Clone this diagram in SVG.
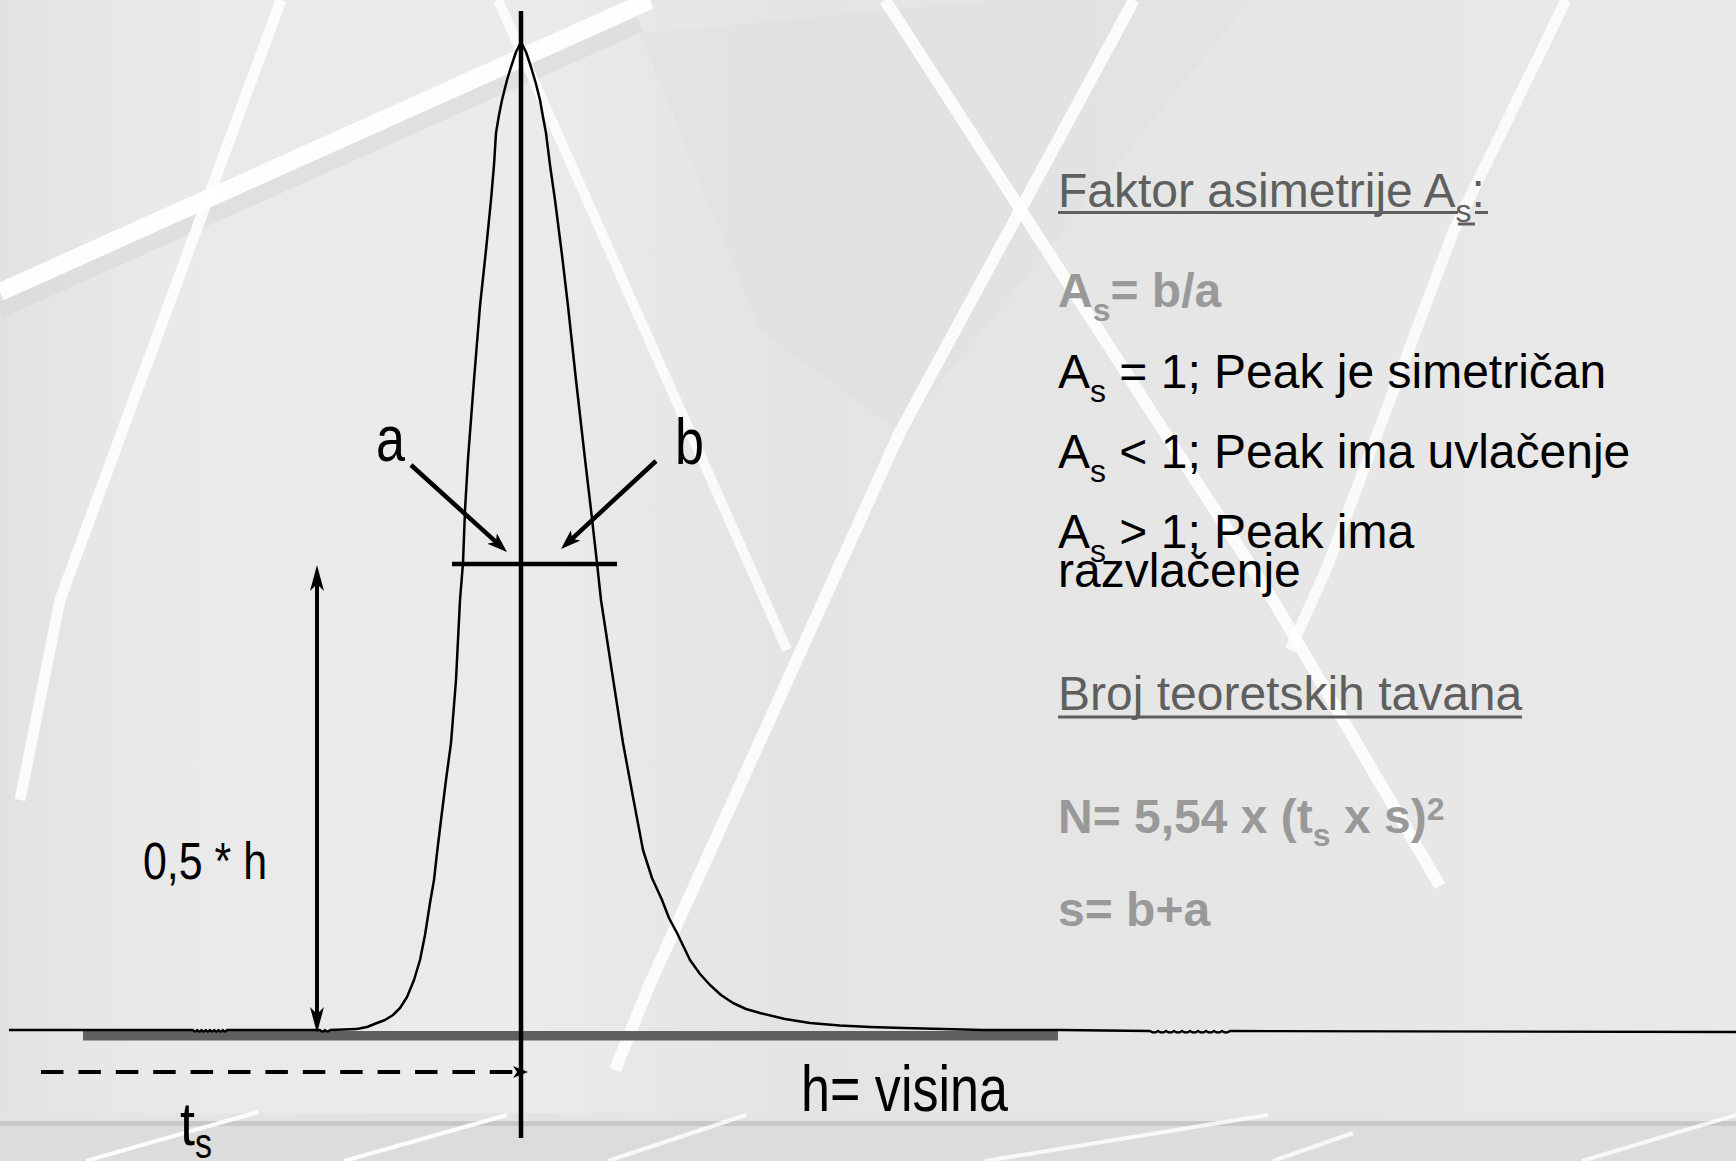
<svg xmlns="http://www.w3.org/2000/svg" width="1736" height="1161" viewBox="0 0 1736 1161">
<defs>
<style>
.bgl{fill:none;stroke:#ffffff;stroke-linecap:butt;stroke-linejoin:round}
.ink{fill:none;stroke:#000;stroke-linecap:butt;stroke-linejoin:round}
.nar{font-family:"Liberation Sans Narrow","Liberation Sans",Arial,sans-serif;fill:#000}
.rt{font-family:"Liberation Sans",Arial,sans-serif;font-size:48px}
.head{fill:#5f5f5f}
.gr{fill:#999999;font-weight:bold}
.bk{fill:#000}
.ul{stroke:#5f5f5f;stroke-width:3}
</style>
<linearGradient id="bgGrad" x1="0" y1="0" x2="1" y2="0">
<stop offset="0" stop-color="#e2e2e2"/>
<stop offset="0.08" stop-color="#e9e9e9"/>
<stop offset="0.3" stop-color="#ebebeb"/>
<stop offset="0.45" stop-color="#e4e4e4"/>
<stop offset="0.7" stop-color="#e6e6e6"/>
<stop offset="1" stop-color="#e9e9e9"/>
</linearGradient>
<marker id="arrowBig" viewBox="0 0 26 14" refX="12" refY="7" markerWidth="26" markerHeight="14" markerUnits="userSpaceOnUse" orient="auto-start-reverse">
<path d="M0,0 L26,7 L0,14 L7,7 z" fill="#000"/>
</marker>
<marker id="arrowMid" viewBox="0 0 20 14" refX="8" refY="7" markerWidth="20" markerHeight="14" markerUnits="userSpaceOnUse" orient="auto">
<path d="M0,0 L20,7 L0,14 L5,7 z" fill="#000"/>
</marker>
<marker id="arrowSmall" viewBox="0 0 15 12" refX="0" refY="6" markerWidth="15" markerHeight="12" markerUnits="userSpaceOnUse" orient="auto">
<path d="M0,0 L15,6 L0,12 L4,6 z" fill="#000"/>
</marker>
</defs>

<g id="background">
<rect x="0" y="0" width="1736" height="1161" fill="url(#bgGrad)"/>
<polygon points="640,34 1000,0 1250,0 900,432 760,330" fill="#dedede" opacity="0.35"/>
<path class="bgl" d="M0,310 L640,24" stroke="#d6d6d6" stroke-width="16" opacity="0.5" style="stroke:#d6d6d6"/>
<path class="bgl" d="M0,292 L650,0" stroke-width="18" opacity="0.95"/>
<path class="bgl" d="M281,0 L60,600 L20,800" stroke-width="11" opacity="0.85"/>
<path class="bgl" d="M498,0 L587,200 L787,650" stroke-width="10" opacity="0.8"/>
<path class="bgl" d="M1134,0 L900,432 L649,986 L615,1070" stroke-width="12" opacity="0.85"/>
<path class="bgl" d="M885,0 L1273,600 L1440,886" stroke-width="12" opacity="0.85"/>
<path class="bgl" d="M1566,0 L1454,230 L1326,570 L1290,650" stroke-width="11" opacity="0.8"/>
<rect x="0" y="1113" width="1736" height="48" fill="#dcdcdc"/>
<rect x="0" y="1113" width="1736" height="8" fill="#e4e4e4"/>
<rect x="0" y="1121" width="1736" height="5" fill="#c8c8c8"/>
<path class="bgl" d="M86,1161 L258,1112" stroke-width="4" opacity="0.9"/>
<path class="bgl" d="M344,1161 L507,1115" stroke-width="4" opacity="0.9"/>
<path class="bgl" d="M608,1161 L746,1115" stroke-width="4" opacity="0.8"/>
<path class="bgl" d="M985,1161 L1268,1115" stroke-width="4" opacity="0.8"/>
<path class="bgl" d="M1273,1161 L1353,1133" stroke-width="4" opacity="0.8"/>
<path class="bgl" d="M1582,1161 L1736,1115" stroke-width="4" opacity="0.8"/>
</g>

<g id="baseline-bar">
<rect x="83" y="1031" width="975" height="9.5" fill="#606060"/>
</g>

<g id="chromatogram">
<path class="ink" stroke-width="2.3" d="M9,1030 L193,1030 q2.1,3 4.25,0 q2.1,3 4.25,0 q2.1,3 4.25,0 q2.1,3 4.25,0 q2.1,3 4.25,0 q2.1,3 4.25,0 q2.1,3 4.25,0 q2.1,3 4.25,0 L320,1030 q2.5,3 5,0 q2.5,3 5,0 L357,1029"/>
<path class="ink" stroke-width="2.5" d="M357,1029 L367,1027 L377,1023 L385,1020 L393,1015 L400,1008 L407,997 L414,980 L420,960 L425,935 L430,903 L434,880 L437,853 L441,820 L446,780 L451,743 L456,680 L460,600 L463,563 L465,510 L468,459 L474,380 L480,306 L486,250 L491,200 L494,165 L496,133 L499,115 L502,100 L507,80 L511,67 L516,52 L521,42 L526,52 L531,67 L536,84 L540,100 L543,117 L546,133 L550,165 L555,200 L562,255 L568,306 L576,380 L585,459 L591,510 L597,563 L601,600 L612,672 L623,743 L633,797 L643,850 L652,878 L662,900 L669,918 L677,933 L690,960 L700,974 L710,985 L721,995 L733,1003 L746,1009 L760,1013 L785,1019 L810,1023 L840,1025.5 L870,1027 L903,1028 L983,1030 L1060,1030"/>
<path class="ink" stroke-width="2.3" d="M1060,1030 L1150,1031 q4,3 8,0 q4,3 8,0 q4,3 8,0 q4,3 8,0 q4,3 8,0 q4,3 8,0 q4,3 8,0 q4,3 8,0 q4,3 8,0 q4,3 8,0 L1736,1032"/>
</g>

<g id="connectors">
<line class="ink" x1="521" y1="11" x2="521" y2="1138" stroke-width="4.5"/>
<line class="ink" x1="452" y1="564" x2="617" y2="564" stroke-width="4.5"/>
<line class="ink" x1="317" y1="579" x2="317" y2="1019" stroke-width="4" marker-start="url(#arrowBig)" marker-end="url(#arrowBig)"/>
<line class="ink" x1="411" y1="465" x2="498.1" y2="543.9" stroke-width="4.5" marker-end="url(#arrowMid)"/>
<line class="ink" x1="656" y1="461" x2="569.8" y2="540.8" stroke-width="4.5" marker-end="url(#arrowMid)"/>
<line class="ink" x1="41" y1="1072" x2="513" y2="1072" stroke-width="4" stroke-dasharray="22.5 14.9" marker-end="url(#arrowSmall)"/>
</g>

<g id="label-a"><text class="nar" x="376" y="461" font-size="64" textLength="29" lengthAdjust="spacingAndGlyphs">a</text></g>
<g id="label-b"><text class="nar" x="675" y="464" font-size="64" textLength="29" lengthAdjust="spacingAndGlyphs">b</text></g>
<g id="label-half-h"><text class="nar" x="143" y="879" font-size="52" textLength="124" lengthAdjust="spacingAndGlyphs">0,5 * h</text></g>
<g id="label-h"><text class="nar" x="801" y="1111" font-size="64" textLength="207" lengthAdjust="spacingAndGlyphs">h= visina</text></g>
<g id="label-ts">
<text class="nar" x="180" y="1145" font-size="62" textLength="15" lengthAdjust="spacingAndGlyphs">t</text>
<text class="nar" x="195" y="1158" font-size="42" textLength="17" lengthAdjust="spacingAndGlyphs">s</text>
</g>

<g id="text-panel">
<text class="rt head" x="1058" y="207">Faktor asimetrije A<tspan font-size="32" dy="15">s</tspan><tspan dy="-15">:</tspan></text>
<line class="ul" x1="1058" y1="212.5" x2="1458" y2="212.5"/>
<line class="ul" x1="1458" y1="224" x2="1475" y2="224"/>
<line class="ul" x1="1475" y1="212.5" x2="1488" y2="212.5"/>
<text class="rt gr" x="1058" y="307">A<tspan font-size="32" dy="14">s</tspan><tspan dy="-14">= b/a</tspan></text>
<text class="rt bk" x="1058" y="388">A<tspan font-size="32" dy="14">s</tspan><tspan dy="-14"> = 1; Peak je simetričan</tspan></text>
<text class="rt bk" x="1058" y="468">A<tspan font-size="32" dy="14">s</tspan><tspan dy="-14"> &lt; 1; Peak ima uvlačenje</tspan></text>
<text class="rt bk" x="1058" y="548">A<tspan font-size="32" dy="14">s</tspan><tspan dy="-14"> &gt; 1; Peak ima</tspan></text>
<text class="rt bk" x="1058" y="587">razvlačenje</text>
<text class="rt head" x="1058" y="710">Broj teoretskih tavana</text>
<line class="ul" x1="1058" y1="717" x2="1522" y2="717"/>
<text class="rt gr" x="1058" y="833">N= 5,54 x (t<tspan font-size="32" dy="13">s</tspan><tspan dy="-13"> x s)</tspan><tspan font-size="32" dy="-13">2</tspan></text>
<text class="rt gr" x="1058" y="926">s= b+a</text>
</g>
</svg>
